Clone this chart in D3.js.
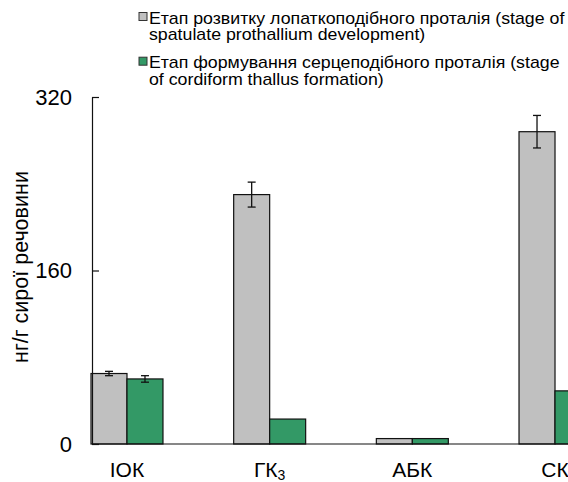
<!DOCTYPE html>
<html>
<head>
<meta charset="utf-8">
<script src="https://cdn.jsdelivr.net/npm/d3@7"></script>
<style>
  body { margin: 0; background: #fff; }
  text { font-family: "Liberation Sans", Arial, sans-serif; fill: #000; }
</style>
</head>
<body>
<svg id="chart" width="568" height="482"></svg>
<script>
// data
const categories = ['ІОК', 'ГК3', 'АБК', 'СК']
const seriesNames = ['spatulate', 'cordiform']
const spatulateValues = [65, 230, 5, 288]
const spatulateErrors = [2, 11.5, 0.5, 15]
const cordiformValues = [60, 23, 5, 49]
const cordiformErrors = [3, 1, 0.5, 3]
const yTicks = [0, 160, 320]
const legendLines = [
  ['Етап розвитку лопаткоподібного проталія (stage of', 'spatulate prothallium development)'],
  ['Етап формування  серцеподібного проталія (stage', 'of cordiform thallus formation)'],
]
const colors = ['#c0c0c0', '#339966']

const svg = d3.select('#chart')

const rows = categories.map((c, i) => ({
  cat: c,
  values: [
    { key: seriesNames[0], v: spatulateValues[i], e: spatulateErrors[i] },
    { key: seriesNames[1], v: cordiformValues[i], e: cordiformErrors[i] },
  ],
}))

const yScale = d3.scaleLinear().domain([0, 320]).range([444, 97])
const xScale = d3.scaleBand().domain(categories).range([91, 591]).paddingInner(0.4955).paddingOuter(0)
const xInner = d3.scaleBand().domain(seriesNames).range([0, xScale.bandwidth()])
const colorScale = d3.scaleOrdinal().domain(seriesNames).range(colors)

// bars
const groups = svg
  .append('g')
  .selectAll('g')
  .data(rows)
  .join('g')
  .attr('transform', (d) => `translate(${xScale(d.cat)},0)`)

groups
  .selectAll('rect')
  .data((d) => d.values)
  .join('rect')
  .attr('x', (d) => xInner(d.key))
  .attr('y', (d) => yScale(d.v))
  .attr('width', xInner.bandwidth())
  .attr('height', (d) => yScale(0) - yScale(d.v))
  .attr('fill', (d) => colorScale(d.key))
  .attr('stroke', '#111')
  .attr('stroke-width', 1.2)

// error bars
const err = groups
  .selectAll('g.err')
  .data((d) => d.values.filter((v) => v.e > 1))
  .join('g')
  .attr('class', 'err')
  .attr('stroke', '#111')
  .attr('stroke-width', 1.3)
err
  .append('line')
  .attr('x1', (d) => xInner(d.key) + xInner.bandwidth() / 2)
  .attr('x2', (d) => xInner(d.key) + xInner.bandwidth() / 2)
  .attr('y1', (d) => yScale(d.v + d.e))
  .attr('y2', (d) => yScale(d.v - d.e))
err
  .selectAll('line.cap')
  .data((d) => [
    { d, y: d.v + d.e },
    { d, y: d.v - d.e },
  ])
  .join('line')
  .attr('class', 'cap')
  .attr('x1', (c) => xInner(c.d.key) + xInner.bandwidth() / 2 - 4)
  .attr('x2', (c) => xInner(c.d.key) + xInner.bandwidth() / 2 + 4)
  .attr('y1', (c) => yScale(c.y))
  .attr('y2', (c) => yScale(c.y))

// y axis, ticks pointing inside
const yAxis = svg
  .append('g')
  .attr('transform', 'translate(92,0)')
  .call(d3.axisRight(yScale).tickValues(yTicks).tickSize(7).tickSizeOuter(0).tickFormat(''))
yAxis.select('.domain').attr('stroke', '#111').attr('stroke-width', 1.2)
yAxis.selectAll('.tick line').attr('stroke', '#111').attr('stroke-width', 1.2)

svg
  .append('g')
  .selectAll('text')
  .data(yTicks)
  .join('text')
  .attr('x', 72)
  .attr('y', (d) => yScale(d))
  .attr('dy', '0.36em')
  .attr('text-anchor', 'end')
  .style('font-size', '22px')
  .text((d) => d)

// baseline
svg
  .append('line')
  .attr('x1', 92)
  .attr('x2', 568)
  .attr('y1', yScale(0))
  .attr('y2', yScale(0))
  .attr('stroke', '#111')
  .attr('stroke-width', 1.2)

// category labels
const catLabels = svg
  .append('g')
  .selectAll('text')
  .data(categories)
  .join('text')
  .attr('x', (d) => xScale(d) + xScale.bandwidth() / 2)
  .attr('y', 477)
  .attr('text-anchor', 'middle')
  .style('font-size', '21px')
catLabels.each(function (d) {
  const t = d3.select(this)
  const m = d.match(/^(.*?)(\d+)$/)
  if (m) {
    t.append('tspan').text(m[1])
    t.append('tspan').attr('dy', 3).style('font-size', '14px').text(m[2])
  } else t.text(d)
})

// y title
svg
  .append('text')
  .attr('transform', 'translate(28,267) rotate(-90)')
  .attr('text-anchor', 'middle')
  .style('font-size', '21.5px')
  .text('нг/г сирої речовини')

// legend (text is a bit wider than plain Arial in the source, so stretch it)
const legend = svg
  .append('g')
  .selectAll('g')
  .data(legendLines)
  .join('g')
  .attr('transform', (d, i) => `translate(139,${12.5 + i * 44.7})`)
legend
  .append('rect')
  .attr('width', 8)
  .attr('height', 8)
  .attr('fill', (d, i) => colors[i])
  .attr('stroke', '#333')
  .attr('stroke-width', 1)
legend
  .append('text')
  .attr('transform', 'translate(10,0) scale(1.11,1)')
  .style('font-size', '16px')
  .selectAll('tspan')
  .data((d) => d)
  .join('tspan')
  .attr('x', 0)
  .attr('y', (d, i) => 11 + i * 16.8)
  .text((d) => d)
</script>
</body>
</html>
